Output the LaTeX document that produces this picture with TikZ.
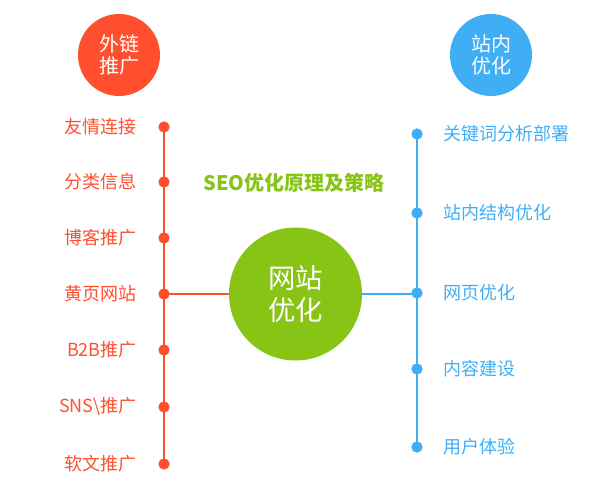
\documentclass[tikz,border=0pt]{standalone}
\usepackage{fontspec}
\usepackage{tikz}
\newfontfamily\cjk{Noto Sans CJK SC}
\definecolor{outcolor}{HTML}{FF4F2E}
\definecolor{incolor}{HTML}{3FAEF5}
\definecolor{seocolor}{HTML}{88C415}
\tikzset{
  bigdot/.style={circle,fill=#1,inner sep=0pt,minimum size=8.25pt},
  headball/.style={circle,fill=#1,inner sep=0pt,minimum size=61.5pt,text=white,
    align=center,font=\cjk\fontsize{15}{16.5}\selectfont},
  itemtext/.style={text=#1,inner sep=0pt,font=\cjk\fontsize{13.5}{15}\selectfont}
}

\begin{document}
\begin{tikzpicture}[x=0.75pt,y=-0.75pt]
\useasboundingbox (0,0) rectangle (600,484);
% the two heads
\node[headball=outcolor] (outhead) at (119,55) {外链\\推广};
\node[headball=incolor] (inhead) at (491,55) {站内\\优化};
% title and centre ball
\node[text=seocolor,font=\cjk\bfseries\fontsize{15}{17}\selectfont] (title) at (294,183) {SEO优化原理及策略};
\node[circle,fill=seocolor,inner sep=0pt,minimum size=99.75pt,text=white,align=center,
  font=\cjk\fontsize{20.5}{24}\selectfont] (site) at (295.5,294) {网站\\优化};

% left column
\foreach \n/\y/\ltext in {1/127/友情连接, 2/182/分类信息, 3/238/博客推广, 4/294/黄页网站,
    5/350/B2B推广, 6/407/SNS\textbackslash{}推广, 7/464/软文推广}{
  \node[bigdot=outcolor] (ld\n) at (164,\y) {};
  \node[itemtext=outcolor,anchor=east] (ll\n) at (137,\y) {\ltext};
}
% right column
\foreach \n/\y/\rtext in {1/134/关键词分析部署, 2/213/站内结构优化, 3/293/网页优化,
    4/369/内容建设, 5/447/用户体验}{
  \node[bigdot=incolor] (rd\n) at (417,\y) {};
  \node[itemtext=incolor,anchor=west] (rl\n) at (443,\y) {\rtext};
}

\draw[outcolor,line width=0.9pt] (ld1.center) -- (ld7.center);
\draw[outcolor,line width=0.9pt] (ld4.center) -- (site.west);
\draw[incolor,line width=0.9pt] (rd1.center) -- (rd5.center);
\draw[incolor,line width=0.9pt] (site.east) -- (rd3.center |- site.east);
% dots again over the lines
\foreach \n in {1,...,7} \fill[outcolor] (ld\n) circle (5.5);
\foreach \n in {1,...,5} \fill[incolor] (rd\n) circle (5.5);
\end{tikzpicture}
\end{document}
